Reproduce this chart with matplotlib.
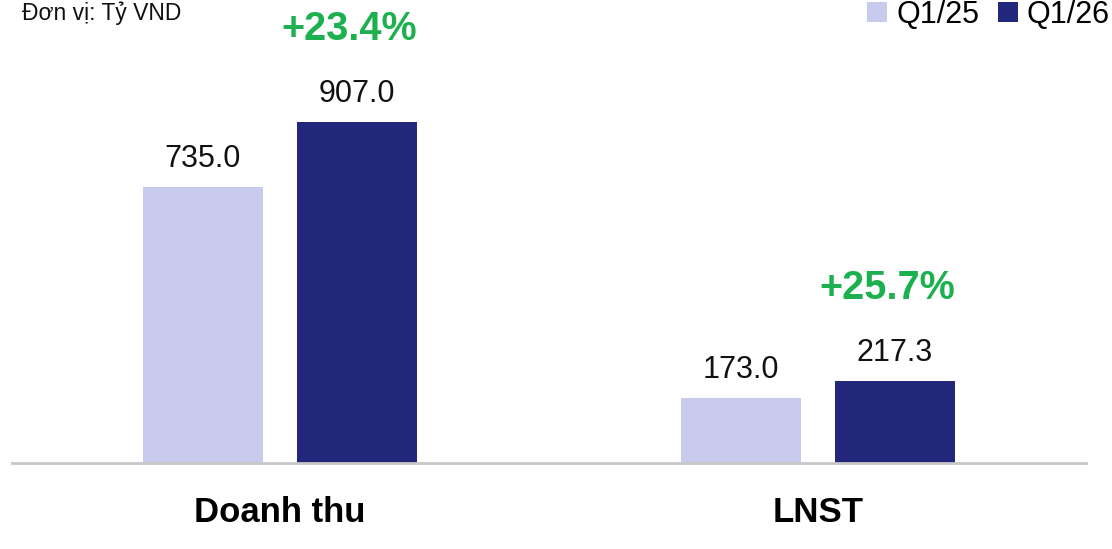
import matplotlib.pyplot as plt
import numpy as np

categories = ['Doanh thu', 'LNST']
series_names = ['Q1/25', 'Q1/26']
q1_25 = [735.0, 173.0]
q1_26 = [907.0, 217.3]
growth = ['+23.4%', '+25.7%']

light = '#C9CBEE'
dark = '#23277B'
green = '#1DB04F'

plt.rcParams['font.family'] = ['Liberation Sans', 'DejaVu Sans']

fig = plt.figure(figsize=(11.12, 5.49), dpi=100)
ax = fig.add_axes([12 / 1112, 86 / 549, 1074 / 1112, 463 / 549])

x = np.arange(len(categories))
width = 0.223
off = 0.143

b1 = ax.bar(x - off, q1_25, width, color=light, label=series_names[0])
b2 = ax.bar(x + off, q1_26, width, color=dark, label=series_names[1])

# value labels above bars
for xi, v in zip(x - off, q1_25):
    ax.annotate(f'{v:.1f}', (xi, v), xytext=(0, 28), textcoords='offset pixels',
                ha='center', va='center', fontsize=22, color='#111111')
for xi, v in zip(x + off, q1_26):
    ax.annotate(f'{v:.1f}', (xi, v), xytext=(0, 28), textcoords='offset pixels',
                ha='center', va='center', fontsize=22, color='#111111')

# growth labels
for xi, v, g in zip(x + off, q1_26, growth):
    ax.annotate(g, (xi, v), xytext=(-8, 93), textcoords='offset pixels',
                ha='center', va='center', fontsize=28.5, fontweight='bold', color=green)

ax.set_xlim(-0.498, 1.498)
ax.set_ylim(0, 1231)
ax.set_yticks([])
ax.set_xticks(x)
ax.set_xticklabels(categories, fontsize=25, fontweight='bold')
ax.tick_params(axis='x', length=0, pad=24)
for s in ['top', 'right', 'left']:
    ax.spines[s].set_visible(False)
ax.spines['bottom'].set_color('#C8C8C8')
ax.spines['bottom'].set_linewidth(2)

# unit note and legend kept just inside the top edge
fig.text(22 / 1112, 1 - 20 / 549, 'Đơn vị: Tỷ VND', fontsize=16.5, ha='left',
         va='baseline', color='#111111')

fig.legend(handles=[b1, b2], labels=series_names, ncol=2, frameon=False,
           loc='center right', bbox_to_anchor=(1110 / 1112, 1 - 15 / 549),
           fontsize=22, handlelength=0.65, handleheight=0.65,
           handletextpad=0.3, columnspacing=0.6, borderaxespad=0,
           borderpad=0)

fig.savefig('out.png', dpi=100)
